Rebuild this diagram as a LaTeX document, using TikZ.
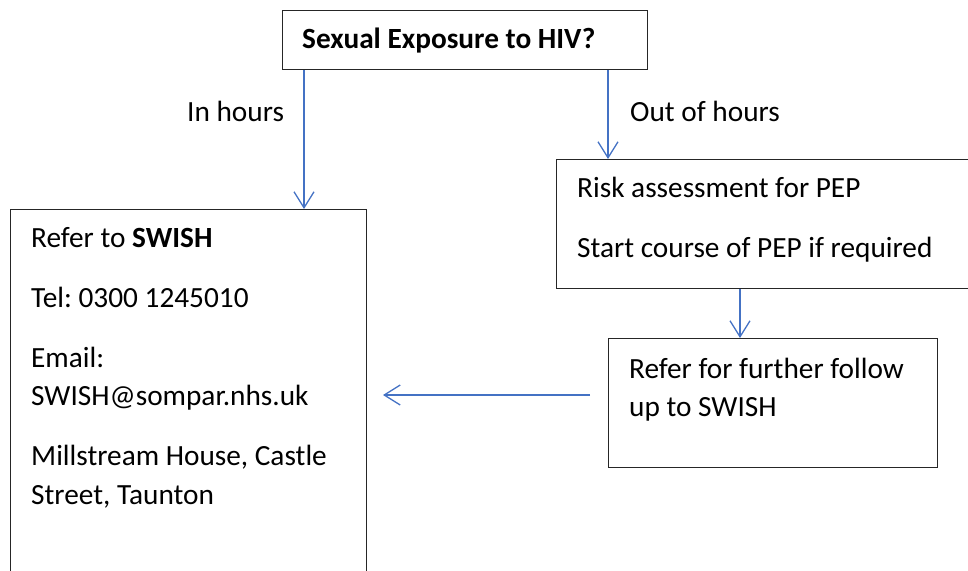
\documentclass[tikz,border=0pt]{standalone}
\usepackage{fontspec}
\setmainfont{Carlito}
\usepackage{xcolor}
\usetikzlibrary{arrows.meta,positioning}
\frenchspacing
\definecolor{flowblue}{RGB}{68,114,196}
\newcommand{\FClines}[1]{\begin{tabular}[t]{@{}l@{}}#1\end{tabular}}
\tikzset{FCbox/.style={draw=black!85,line width=1.4pt,rectangle,inner sep=0pt,anchor=north west}}
\tikzset{FCtext/.style={anchor=base west,inner sep=0pt,font=\fontsize{29.3}{38.5}\selectfont}}
\tikzset{FCarrow/.style={draw=flowblue,line width=1.3pt,-{Straight Barb[length=16pt,width=20pt,line width=1.3pt]}}}

\begin{document}
\begin{tikzpicture}[x=1pt,y=-1pt]
	\useasboundingbox (0,0) rectangle (968,570);
	\node[FCbox,minimum width=365pt,minimum height=59pt] (HIV) at (282,10) {};
	\node[FCbox,minimum width=356pt,minimum height=390pt] (SWISH) at (10,209) {};
	\node[FCbox,minimum width=420pt,minimum height=129pt] (Risk) at (556,159) {};
	\node[FCbox,minimum width=329pt,minimum height=129pt] (Refer) at (608,338) {};
	%
	\node[FCtext] (HIVtxt) at (302,48.5) {\textbf{Sexual Exposure to HIV?}};
	\node[FCtext] (SWISHtxt) at (31,247) {\FClines{Refer to \textbf{SWISH}\\[21.5pt]
		Tel: 0300 1245010\\[21.5pt]
		Email:\\
		SWISH@sompar.nhs.uk\\[21.5pt]
		Millstream House, Castle\\
		Street, Taunton}};
	\node[FCtext] (Risktxt) at (577,197) {\FClines{Risk assessment for PEP\\[22pt]
		Start course of PEP if required}};
	\node[FCtext] (Refertxt) at (629,378) {\FClines{Refer for further follow\\
		up to SWISH}};
	\node[FCtext] (InH) at (187,121) {In hours};
	\node[FCtext] (OutH) at (630,121) {Out of hours};
	%
	\coordinate (InX) at (304,0);
	\coordinate (OutX) at (608,0);
	\coordinate (DownX) at (740,0);
	\coordinate (BackFrom) at (590,395);
	\coordinate (BackTo) at (383,395);
	\draw [FCarrow] (HIV.south -| InX) -- (SWISH.north -| InX);
	\draw [FCarrow] (HIV.south -| OutX) -- (Risk.north -| OutX);
	\draw [FCarrow] (Risk.south -| DownX) -- (Refer.north -| DownX);
	\draw [FCarrow] (BackFrom) -- (BackTo);
\end{tikzpicture}
\end{document}
